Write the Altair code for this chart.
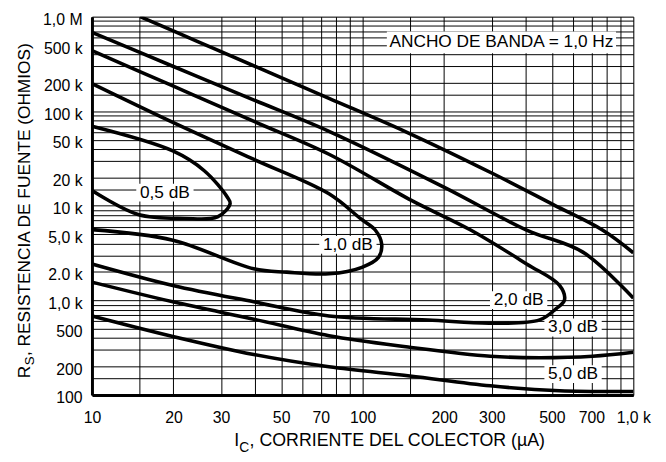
import altair as alt
import pandas as pd

FONT = "Liberation Sans, Arial, sans-serif"

# ---- noise-figure contours: collector current I (uA), source resistance R (ohm)
nf05_I = [10, 19.9, 26.0, 31.6, 32.4, 29.1, 22.0, 14.8, 10]
nf05_R = [69300, 38000, 23500, 12400, 10600, 7640, 7350, 8090, 14500]

nf10_I = [10, 19.9, 39.3, 75.1, 98.3, 111.3, 117.6, 114.4, 99.4, 75.1, 52.4, 39.6, 19.9, 10]
nf10_R = [196000, 76300, 31300, 13400, 7310, 5550, 3930, 2850, 2240, 1910, 1990, 2160, 4330, 5600]

nf20_I = [10, 19.9, 39.3, 75.1, 151.4, 250.6, 403.5, 534, 556.7, 519, 451, 296.4, 174, 75.1, 39.6, 19.9, 10]
nf20_R = [438000, 185000, 78900, 35100, 11400, 5550, 2430, 1443, 1006, 820, 622, 574, 620, 685, 966, 1440, 2430]

nf30u_I = [10, 19.9, 39.3, 75.1, 200.4, 403.5, 651, 1000]
nf30u_R = [681000, 299000, 133000, 61400, 15700, 5550, 3240, 1056]
nf30l_I = [10, 19.9, 39.6, 75.1, 147.2, 296.4, 451, 707, 1000]
nf30l_R = [1560, 966, 633, 423, 322, 257, 248, 257, 283]

nf50u_I = [15.06, 24.6, 40.7, 75.1, 143.1, 305, 506, 769, 1000]
nf50u_R = [1000000, 546000, 292000, 136900, 61400, 21700, 10300, 5550, 3190]
nf50l_I = [10, 19.9, 39.6, 75.1, 149.4, 296.4, 534, 1000]
nf50l_R = [685, 416, 268, 198.5, 159, 125, 111, 109]

# ---- curve labels
lab_text = ["0,5 dB", "1,0 dB", "2,0 dB", "3,0 dB", "5,0 dB"]
lab_I = [18.6, 88.2, 377, 599, 599]
lab_R = [13800, 3870, 1006, 517, 166]

band_text = ["ANCHO DE BANDA = 1,0 Hz"]
band_I = [325.7]
band_R = [535000]

# ---- axes
x_grid = [10, 15, 20, 30, 40, 50, 60, 70, 80, 90,
          100, 150, 200, 300, 400, 500, 600, 700, 800, 900, 1000]
x_lab_vals = [10, 20, 30, 50, 70, 100, 200, 300, 500, 700, 1000]
x_lab_text = ["10", "20", "30", "50", "70", "100", "200", "300", "500", "700", "1,0 k"]

mant = [1, 1.5, 2, 3, 4, 5, 6, 7, 8, 9]
y_grid = [int(m * d) for d in [100, 1000, 10000, 100000] for m in mant] + [1000000]
y_lab_vals = [100, 200, 500, 1000, 2000, 5000, 10000, 20000, 50000, 100000, 200000, 500000, 1000000]
y_lab_text = ["100", "200", "500", "1,0 k", "2.0 k", "5,0 k", "10 k", "20 k", "50 k",
              "100 k", "200 k", "500 k", "1,0 M"]


def label_expr(vals, texts):
    s = "''"
    for v, t in reversed(list(zip(vals, texts))):
        s = f"datum.value == {v} ? '{t}' : ({s})"
    return s


curves = []
for name, I, R in [("0.5", nf05_I, nf05_R), ("1.0", nf10_I, nf10_R), ("2.0", nf20_I, nf20_R),
                   ("3.0u", nf30u_I, nf30u_R), ("3.0l", nf30l_I, nf30l_R),
                   ("5.0u", nf50u_I, nf50u_R), ("5.0l", nf50l_I, nf50l_R)]:
    for k, (i, r) in enumerate(zip(I, R)):
        curves.append({"curve": name, "idx": k, "I": i, "R": r})
df_curves = pd.DataFrame(curves)
df_labels = pd.DataFrame({"I": lab_I, "R": lab_R, "t": lab_text})
df_band = pd.DataFrame({"I": band_I, "R": band_R, "t": band_text})
one = pd.DataFrame({"a": [0]})

xscale = alt.Scale(type="log", domain=[10, 1000], nice=False)
yscale = alt.Scale(type="log", domain=[100, 1000000], nice=False)
xenc = alt.X("I:Q", scale=xscale,
             axis=alt.Axis(values=x_grid, labelExpr=label_expr(x_lab_vals, x_lab_text),
                           grid=True, gridColor="black", gridWidth=1, gridOpacity=1,
                           ticks=False, domain=True, domainColor="black", domainWidth=3,
                           labelFont=FONT, labelFontSize=16, labelColor="black",
                           labelPadding=15, labelFlush=False, labelOverlap=False, title=None))
yenc = alt.Y("R:Q", scale=yscale,
             axis=alt.Axis(values=y_grid, labelExpr=label_expr(y_lab_vals, y_lab_text),
                           grid=True, gridColor="black", gridWidth=1, gridOpacity=1,
                           ticks=False, domain=True, domainColor="black", domainWidth=3,
                           labelFont=FONT, labelFontSize=16, labelColor="black",
                           labelPadding=10, labelOffset=3, labelOverlap=False, title=None))

box_small = alt.Chart(df_labels).mark_rect(
    color="white", opacity=1, xOffset=-29, x2Offset=29, yOffset=-9, y2Offset=9
).encode(x=xenc, x2="I:Q", y=yenc, y2="R:Q")

box_band = alt.Chart(df_band).mark_rect(
    color="white", opacity=1, xOffset=-116, x2Offset=116, yOffset=-11, y2Offset=11
).encode(x=xenc, x2="I:Q", y=yenc, y2="R:Q")

lines = alt.Chart(df_curves).mark_line(
    color="black", strokeWidth=3.6, interpolate="catmull-rom", clip=True
).encode(x=xenc, y=yenc, detail="curve:N", order="idx:Q")

lab = alt.Chart(df_labels).mark_text(
    font=FONT, fontSize=17.5, color="black", align="center", baseline="middle"
).encode(x=xenc, y=yenc, text="t:N")

band = alt.Chart(df_band).mark_text(
    font=FONT, fontSize=17.5, color="black", align="center", baseline="middle"
).encode(x=xenc, y=yenc, text="t:N")

# x title with subscript
xt1 = alt.Chart(one).mark_text(font=FONT, fontSize=18, color="black", align="left",
                               baseline="alphabetic").encode(
    x=alt.value(144), y=alt.value(435), text=alt.value("I"))
xt2 = alt.Chart(one).mark_text(font=FONT, fontSize=14, color="black", align="left",
                               baseline="alphabetic").encode(
    x=alt.value(149), y=alt.value(441), text=alt.value("C"))
xt3 = alt.Chart(one).mark_text(font=FONT, fontSize=18, color="black", align="left",
                               baseline="alphabetic").encode(
    x=alt.value(159.5), y=alt.value(435), text=alt.value(", CORRIENTE DEL COLECTOR (\u00b5A)"))

# y title with subscript (rotated)
yt1 = alt.Chart(one).mark_text(font=FONT, fontSize=17.5, color="black", align="left",
                               baseline="alphabetic", angle=270).encode(
    x=alt.value(-63), y=alt.value(366), text=alt.value("R"))
yt2 = alt.Chart(one).mark_text(font=FONT, fontSize=13.5, color="black", align="left",
                               baseline="alphabetic", angle=270).encode(
    x=alt.value(-59), y=alt.value(353), text=alt.value("S"))
yt3 = alt.Chart(one).mark_text(font=FONT, fontSize=17.5, color="black", align="left",
                               baseline="alphabetic", angle=270).encode(
    x=alt.value(-63), y=alt.value(343.5), text=alt.value(", RESISTENCIA DE FUENTE (OHMIOS)"))

chart = alt.layer(box_small, box_band, lines, lab, band, xt1, xt2, xt3, yt1, yt2, yt3).properties(
    width=548, height=383,
    padding={"left": 85, "top": 6, "right": 25, "bottom": 60},
    autosize="none",
).configure_view(stroke="black", strokeWidth=2).configure(background="white")

chart.save("out.html", embed_options={"renderer": "svg", "actions": False})
